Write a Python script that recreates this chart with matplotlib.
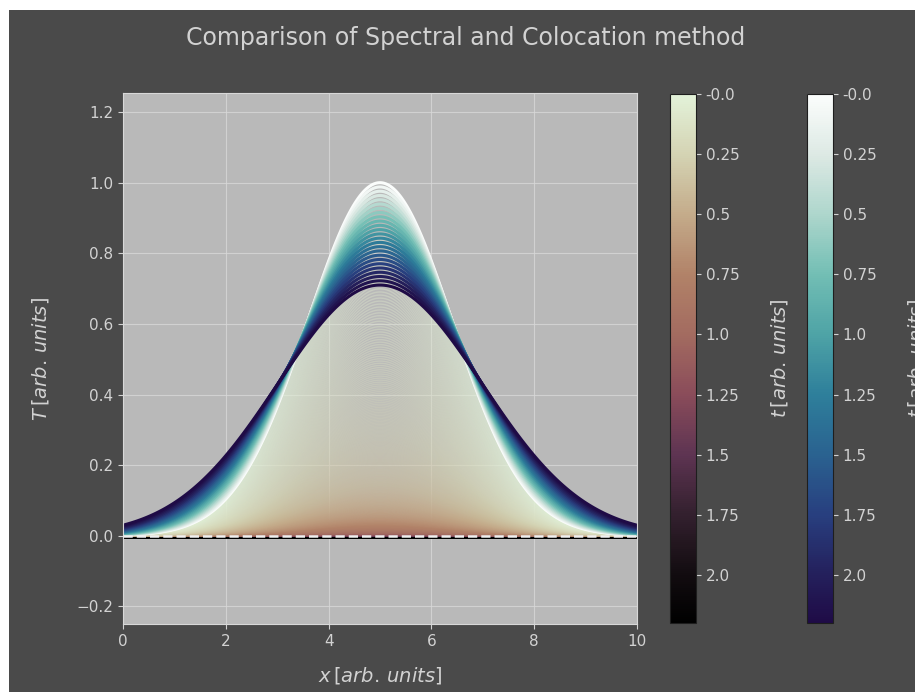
import numpy as np
import matplotlib
matplotlib.use('Agg')
import matplotlib.pyplot as plt
from matplotlib.collections import LineCollection
from matplotlib.colors import LinearSegmentedColormap, Normalize
from matplotlib.cm import ScalarMappable
from matplotlib.patches import Rectangle

# values
t_max = 2.2               # end of the colour scale
pulse_center = 5.0
pulse_sigma = 1.41        # width of the initial pulse
pulse_height = 1.0
coloc_final_peak = 0.71   # peak of the last colocation curve
spectral_decay = 4.6      # decay rate of the spectral curves
spectral_floor = -0.007   # where the late spectral curves settle
n_coloc = 25
n_spectral = 800

xticks = [0, 2, 4, 6, 8, 10]
yticks = [-0.2, 0.0, 0.2, 0.4, 0.6, 0.8, 1.0, 1.2]
cbar_ticks = [0.0, 0.25, 0.5, 0.75, 1.0, 1.25, 1.5, 1.75, 2.0]
cbar_ticklabels = ['-0.0', '0.25', '0.5', '0.75', '1.0', '1.25', '1.5', '1.75', '2.0']

cmap_stops = [0.0, 0.25, 0.5, 0.75, 1.0, 1.25, 1.5, 1.75, 2.0, 2.2]
spectral_colors = ['#e3f2d9', '#d4d3b3', '#c4ab8a', '#b18268', '#a36b60',
                   '#8a4c5a', '#5e3452', '#33202e', '#120c10', '#000000']
coloc_colors = ['#fbfdfc', '#dde9e4', '#add6cc', '#72beb4', '#4ea3a6',
                '#2e7f9b', '#2a6290', '#283f7f', '#24205c', '#1f0b46']

bg = '#4a4a4a'
axbg = '#b9b9b9'
fg = '#d2d2d2'

pos = [s / t_max for s in cmap_stops]
cmap_spec = LinearSegmentedColormap.from_list('spec', list(zip(pos, spectral_colors)))
cmap_col = LinearSegmentedColormap.from_list('col', list(zip(pos, coloc_colors)))
norm = Normalize(0, t_max)

x = np.linspace(0, 10, 400)
g = np.exp(-(x - pulse_center) ** 2 / (2 * pulse_sigma ** 2))

# spectral: pulse decays in height
t_s = np.linspace(0, t_max, n_spectral)
A_s = np.exp(-spectral_decay * t_s)[:, None]
T_s = pulse_height * A_s * g[None, :] + (1 - A_s) * spectral_floor

# colocation: pulse spreads out, area kept
t_c = np.linspace(0, t_max, n_coloc)
A_c = pulse_height - (pulse_height - coloc_final_peak) * t_c / t_max
T_c = A_c[:, None] * np.exp(-(x[None, :] - pulse_center) ** 2 * A_c[:, None] ** 2
                            / (2 * pulse_sigma ** 2))

plt.rcParams['font.size'] = 11
plt.rcParams['mathtext.fontset'] = 'dejavusans'

fig = plt.figure(figsize=(9.15, 6.92), dpi=100)
fig.patch.set_facecolor('white')
fig.add_artist(Rectangle((9 / 915, 0), 1, (692 - 10) / 692, transform=fig.transFigure,
                         facecolor=bg, edgecolor='none', zorder=-10))

ax = fig.add_axes([123 / 915, 1 - 624 / 692, (637 - 123) / 915, (624 - 93) / 692])
ax.set_facecolor(axbg)

segs = np.stack([np.broadcast_to(x, T_s.shape), T_s], axis=-1)
ax.add_collection(LineCollection(segs, colors=cmap_spec(norm(t_s)), linewidths=1.0,
                                 alpha=0.4, zorder=2))

segs = np.stack([np.broadcast_to(x, T_c.shape), T_c], axis=-1)
ax.add_collection(LineCollection(segs, colors=cmap_col(norm(t_c)), linewidths=2.2, zorder=2.5))

ax.axhline(0, ls='--', color='#f0f0f0', lw=1.8, zorder=3)

ax.set_xlim(0, 10)
ax.set_ylim(-0.25, 1.254)
ax.set_xticks(xticks)
ax.set_yticks(yticks)
ax.grid(True, color='#d8d8d8', lw=0.8, alpha=0.8)
ax.set_axisbelow(True)
for s in ax.spines.values():
    s.set_color('#d8d8d8')
ax.tick_params(colors=fg, labelsize=11)
ax.set_xlabel(r'$x\,[arb.\,units]$', color=fg, fontsize=14, labelpad=12)
ax.set_ylabel(r'$T\,[arb.\,units]$', color=fg, fontsize=14, labelpad=18)

fig.suptitle('Comparison of Spectral and Colocation method', color=fg, fontsize=17,
             x=466 / 915, y=1 - 38 / 692, va='center')

for left, cmap in [(670, cmap_spec), (807, cmap_col)]:
    cax = fig.add_axes([left / 915, 1 - 623 / 692, 26 / 915, (623 - 94) / 692])
    cb = fig.colorbar(ScalarMappable(norm=norm, cmap=cmap), cax=cax)
    cb.set_ticks(cbar_ticks, labels=cbar_ticklabels)
    cax.invert_yaxis()
    cax.tick_params(colors=fg, labelsize=11)
    cb.outline.set_edgecolor('#1e1e1e')
    cb.set_label(r'$t\,[arb.\,units]$', color=fg, fontsize=14, labelpad=21)

fig.savefig('out.png', dpi=100, facecolor=fig.get_facecolor())
